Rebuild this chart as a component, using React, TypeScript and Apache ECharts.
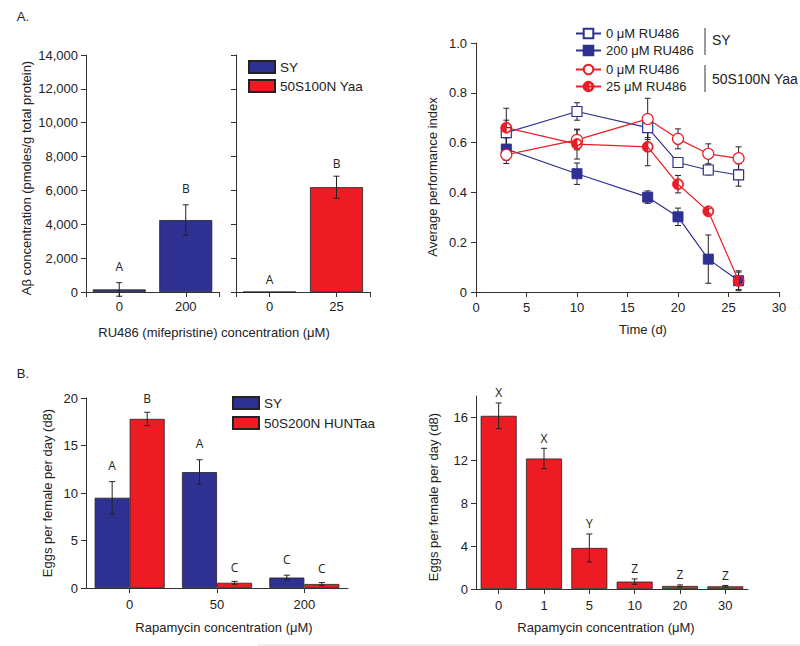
import React, { useEffect, useRef } from "react";
import * as echarts from "echarts";

const FONT = "'Liberation Sans', Arial, Helvetica, sans-serif";
const LETTER_FONT = "'Open Sans', 'Liberation Sans', sans-serif";
const BLUE = "#2E3192";
const RED = "#ED1C24";
const AXIS = "#333";
const INK = "#222";

// ---- Panel A (bars): Aβ concentration ----
const aCatsSY = ["0", "200"];
const aValsSY = [150, 4250];
const aErrSY = [400, 900];
const aLetSY = ["A", "B"];
const aCatsYaa = ["0", "25"];
const aValsYaa = [0, 6190];
const aErrYaa = [0, 650];
const aLetYaa = ["A", "B"];

// ---- Panel A (lines): performance index ----
const times = [3, 10, 17, 20, 23, 26];
const piSY0 = [0.64, 0.725, 0.66, 0.52, 0.49, 0.47];
const piSY0Err = [0.05, 0.035, 0.04, 0.02, 0.02, 0.045];
const piSY200 = [0.574, 0.475, 0.381, 0.302, 0.132, 0.045];
const piSY200Err = [0.045, 0.043, 0.025, 0.035, 0.097, 0.04];
const piYaa0 = [0.551, 0.611, 0.695, 0.615, 0.555, 0.537];
const piYaa0Err = [0.035, 0.04, 0.083, 0.04, 0.04, 0.046];
const piYaa25 = [0.66, 0.594, 0.583, 0.433, 0.324, 0.045];
const piYaa25Err = [0.078, 0.06, 0.076, 0.035, 0.01, 0.035];

// ---- Panel B (grouped bars): eggs vs rapamycin ----
const bCats = ["0", "50", "200"];
const bSY = [9.5, 12.2, 1.1];
const bSYErr = [1.7, 1.3, 0.25];
const bSYLet = ["A", "A", "C"];
const bHunt = [17.8, 0.55, 0.42];
const bHuntErr = [0.7, 0.15, 0.15];
const bHuntLet = ["B", "C", "C"];

// ---- Panel B (single bars) ----
const rCats = ["0", "1", "5", "10", "20", "30"];
const rVals = [16.15, 12.17, 3.83, 0.69, 0.28, 0.25];
const rErr = [1.2, 0.95, 1.3, 0.25, 0.1, 0.08];
const rLet = ["X", "X", "Y", "Z", "Z", "Z"];
const rTicks = [0, 4, 8, 12, 16];

const HALF_CIRCLE =
  "path://M0,-6A6,6 0 0 0 0,6Z M0,-6A6,6 0 0 1 0,6L0,4.9A4.9,4.9 0 0 0 0,-4.9Z";

function makeErr(letters: string[] | null, offset: number, gap: number) {
  return (params: any, api: any) => {
    const x = api.value(0);
    const v = api.value(1);
    const e = api.value(2);
    const top = api.coord([x, v + e]);
    const bot = api.coord([x, v - e]);
    const cx = top[0] + offset;
    const st = { stroke: INK, lineWidth: 1 };
    const children: any[] = [];
    if (e > 0) {
      children.push({ type: "line", shape: { x1: cx, y1: top[1], x2: cx, y2: bot[1] }, style: st });
      children.push({ type: "line", shape: { x1: cx - 3, y1: top[1], x2: cx + 3, y2: top[1] }, style: st });
      children.push({ type: "line", shape: { x1: cx - 3, y1: bot[1], x2: cx + 3, y2: bot[1] }, style: st });
    }
    if (letters) {
      children.push({
        type: "text",
        x: cx,
        y: top[1] - gap,
        style: {
          text: letters[params.dataIndex],
          fill: INK,
          fontSize: 12,
          fontFamily: LETTER_FONT,
          align: "center",
          verticalAlign: "middle",
        },
      });
    }
    return { type: "group", children };
  };
}

const axisLine = { show: true, onZero: false, lineStyle: { color: AXIS, width: 1 } };
const labelStyle = { color: INK, fontSize: 13, fontFamily: FONT };

function errSeries(
  xi: number,
  xs: number[],
  vals: number[],
  errs: number[],
  letters: string[] | null,
  offset: number,
  gap: number
) {
  return {
    type: "custom",
    xAxisIndex: xi,
    yAxisIndex: xi,
    renderItem: makeErr(letters, offset, gap),
    encode: { x: 0, y: 1 },
    data: vals.map((v, i) => [xs[i], v, errs[i]]),
    z: 5,
    silent: true,
  };
}

function titleText(text: string, x: number, y: number, rotate = false) {
  return {
    type: "text",
    x,
    y,
    rotation: rotate ? Math.PI / 2 : 0,
    style: {
      text,
      fill: INK,
      fontSize: 13,
      fontFamily: FONT,
      align: "center",
      verticalAlign: "middle",
    },
  };
}

const idx = (arr: any[]) => arr.map((_, i) => i);

const option: any = {
  animation: false,
  backgroundColor: "#fff",
  grid: [
    { left: 86, top: 55, width: 133, height: 237 },
    { left: 236, top: 55, width: 134, height: 237 },
    { left: 476, top: 43, width: 303, height: 249 },
    { left: 86, top: 398, width: 262, height: 190 },
    { left: 476, top: 396, width: 272, height: 193 },
  ],
  xAxis: [
    {
      type: "value",
      gridIndex: 0,
      min: -0.5,
      max: 1.5,
      axisLine,
      axisTick: { show: true, length: 5, lineStyle: { color: AXIS }, customValues: [-0.5, 0, 1, 1.5] },
      axisLabel: { ...labelStyle, margin: 8, customValues: [0, 1], formatter: (v: number) => aCatsSY[Math.round(v)] },
      splitLine: { show: false },
    },
    {
      type: "value",
      gridIndex: 1,
      min: -0.5,
      max: 1.5,
      axisLine,
      axisTick: { show: true, length: 5, lineStyle: { color: AXIS }, customValues: [-0.5, 0, 1, 1.5] },
      axisLabel: { ...labelStyle, margin: 8, customValues: [0, 1], formatter: (v: number) => aCatsYaa[Math.round(v)] },
      splitLine: { show: false },
    },
    {
      type: "value",
      gridIndex: 2,
      min: 0,
      max: 30,
      interval: 5,
      axisLine,
      axisTick: { show: true, length: 5, lineStyle: { color: AXIS } },
      axisLabel: { ...labelStyle, margin: 9 },
      splitLine: { show: false },
    },
    {
      type: "category",
      gridIndex: 3,
      data: bCats,
      axisLine,
      axisTick: { show: true, length: 5, alignWithLabel: true, lineStyle: { color: AXIS } },
      axisLabel: { ...labelStyle, margin: 10 },
    },
    {
      type: "category",
      gridIndex: 4,
      data: rCats,
      axisLine,
      axisTick: { show: true, length: 5, alignWithLabel: true, lineStyle: { color: AXIS } },
      axisLabel: { ...labelStyle, margin: 10 },
    },
  ],
  yAxis: [
    {
      type: "value",
      gridIndex: 0,
      min: 0,
      max: 14000,
      interval: 2000,
      axisLine,
      axisTick: { show: true, length: 5, lineStyle: { color: AXIS } },
      axisLabel: { ...labelStyle, margin: 8, formatter: (v: number) => v.toLocaleString("en-US") },
      splitLine: { show: false },
    },
    {
      type: "value",
      gridIndex: 1,
      min: 0,
      max: 14000,
      interval: 2000,
      axisLine,
      axisTick: { show: true, length: 5, lineStyle: { color: AXIS } },
      axisLabel: { show: false },
      splitLine: { show: false },
    },
    {
      type: "value",
      gridIndex: 2,
      min: 0,
      max: 1,
      interval: 0.2,
      axisLine,
      axisTick: { show: true, length: 5, lineStyle: { color: AXIS } },
      axisLabel: { ...labelStyle, margin: 9, formatter: (v: number) => (v === 0 ? "0" : v.toFixed(1)) },
      splitLine: { show: false },
    },
    {
      type: "value",
      gridIndex: 3,
      min: 0,
      max: 20,
      interval: 5,
      axisLine,
      axisTick: { show: true, length: 5, lineStyle: { color: AXIS } },
      axisLabel: { ...labelStyle, margin: 8 },
      splitLine: { show: false },
    },
    {
      type: "value",
      gridIndex: 4,
      min: 0,
      max: 18,
      interval: 4,
      axisLine,
      axisTick: { show: true, length: 5, lineStyle: { color: AXIS }, customValues: rTicks },
      axisLabel: { ...labelStyle, margin: 8, customValues: rTicks },
      splitLine: { show: false },
    },
  ],
  legend: [
    {
      data: ["SY", "50S100N Yaa"],
      left: 248,
      top: 60,
      padding: 0,
      orient: "vertical",
      icon: "rect",
      itemWidth: 26,
      itemHeight: 12,
      itemGap: 5,
      selectedMode: false,
      textStyle: { ...labelStyle, fontSize: 13.5, lineHeight: 12 },
    },
    {
      data: ["SY", "50S200N HUNTaa"],
      left: 232,
      top: 396,
      padding: 0,
      orient: "vertical",
      icon: "rect",
      itemWidth: 26,
      itemHeight: 12,
      itemGap: 6,
      selectedMode: false,
      textStyle: { ...labelStyle, fontSize: 13.5, lineHeight: 12 },
    },
    {
      data: ["0 μM RU486|SY", "200 μM RU486|SY"],
      left: 575,
      top: 27,
      padding: 0,
      orient: "vertical",
      itemWidth: 25,
      itemHeight: 12,
      itemGap: 4,
      selectedMode: false,
      formatter: (n: string) => n.split("|")[0],
      textStyle: { ...labelStyle, fontSize: 13, lineHeight: 12 },
    },
    {
      data: ["0 μM RU486|Yaa", "25 μM RU486|Yaa"],
      left: 575,
      top: 63,
      padding: 0,
      orient: "vertical",
      itemWidth: 25,
      itemHeight: 12,
      itemGap: 4,
      selectedMode: false,
      formatter: (n: string) => n.split("|")[0],
      textStyle: { ...labelStyle, fontSize: 13, lineHeight: 12 },
    },
  ],
  series: [
    // Panel A bars
    {
      type: "bar",
      name: "SY",
      xAxisIndex: 0,
      yAxisIndex: 0,
      barWidth: 53,
      data: aValsSY.map((v, i) => [i, v]),
      itemStyle: { color: BLUE, borderColor: INK, borderWidth: 0.8 },
    },
    errSeries(0, idx(aValsSY), aValsSY, aErrSY, aLetSY, 0, 16),
    {
      type: "bar",
      name: "50S100N Yaa",
      xAxisIndex: 1,
      yAxisIndex: 1,
      barWidth: 53,
      data: aValsYaa.map((v, i) => [i, v]),
      itemStyle: { color: RED, borderColor: INK, borderWidth: 0.8 },
    },
    errSeries(1, idx(aValsYaa), aValsYaa, aErrYaa, aLetYaa, 0, 13),
    // Panel A lines: error bars first
    errSeries(2, times, piSY0, piSY0Err, null, 0, 0),
    errSeries(2, times, piSY200, piSY200Err, null, 0, 0),
    errSeries(2, times, piYaa0, piYaa0Err, null, 0, 0),
    errSeries(2, times, piYaa25, piYaa25Err, null, 0, 0),
    {
      type: "line",
      name: "0 μM RU486|SY",
      xAxisIndex: 2,
      yAxisIndex: 2,
      data: times.map((t, i) => [t, piSY0[i]]),
      symbol: "rect",
      symbolSize: 10,
      lineStyle: { color: BLUE, width: 1.2 },
      itemStyle: { color: "#fff", borderColor: BLUE, borderWidth: 1.2 },
      z: 6,
    },
    {
      type: "line",
      name: "200 μM RU486|SY",
      xAxisIndex: 2,
      yAxisIndex: 2,
      data: times.map((t, i) => [t, piSY200[i]]),
      symbol: "rect",
      symbolSize: 10,
      lineStyle: { color: BLUE, width: 1.2 },
      itemStyle: { color: BLUE, borderColor: BLUE, borderWidth: 1 },
      z: 6,
    },
    {
      type: "line",
      name: "0 μM RU486|Yaa",
      xAxisIndex: 2,
      yAxisIndex: 2,
      data: times.map((t, i) => [t, piYaa0[i]]),
      symbol: "circle",
      symbolSize: 11,
      lineStyle: { color: RED, width: 1.2 },
      itemStyle: { color: "#fff", borderColor: RED, borderWidth: 1.2 },
      z: 6,
    },
    {
      type: "line",
      name: "25 μM RU486|Yaa",
      xAxisIndex: 2,
      yAxisIndex: 2,
      data: times.map((t, i) => [t, piYaa25[i]]),
      symbol: HALF_CIRCLE,
      symbolSize: 11,
      lineStyle: { color: RED, width: 1.2 },
      itemStyle: { color: RED, borderColor: RED, borderWidth: 0.8 },
      z: 6,
    },
    // Panel B grouped bars
    {
      type: "bar",
      name: "SY",
      xAxisIndex: 3,
      yAxisIndex: 3,
      barWidth: 35,
      barGap: "0%",
      data: bSY,
      itemStyle: { color: BLUE, borderColor: INK, borderWidth: 0.8 },
    },
    {
      type: "bar",
      name: "50S200N HUNTaa",
      xAxisIndex: 3,
      yAxisIndex: 3,
      barWidth: 35,
      barGap: "0%",
      data: bHunt,
      itemStyle: { color: RED, borderColor: INK, borderWidth: 0.8 },
    },
    errSeries(3, idx(bSY), bSY, bSYErr, bSYLet, -17.5, 16),
    errSeries(3, idx(bHunt), bHunt, bHuntErr, bHuntLet, 17.5, 14),
    // Panel B single bars
    {
      type: "bar",
      name: "rapamycin",
      xAxisIndex: 4,
      yAxisIndex: 4,
      barWidth: 36,
      data: rVals,
      itemStyle: { color: RED, borderColor: INK, borderWidth: 0.8 },
    },
    errSeries(4, idx(rVals), rVals, rErr, rLet, 0, 10),
  ],
  graphic: [
    titleText("A.", 23, 16),
    titleText("B.", 23, 373),
    titleText("Aβ concentration (pmoles/g total protein)", 26, 178, true),
    titleText("RU486 (mifepristine) concentration (μM)", 214, 332),
    titleText("Average performance index", 432, 177, true),
    titleText("Time (d)", 643, 329),
    titleText("Eggs per female per day (d8)", 47, 493, true),
    titleText("Rapamycin concentration (μM)", 224, 627),
    titleText("Eggs per female per day (d8)", 433, 497, true),
    titleText("Rapamycin concentration (μM)", 606, 627),
    { type: "line", shape: { x1: 705, y1: 28, x2: 705, y2: 55 }, style: { stroke: "#999", lineWidth: 2 } },
    { type: "line", shape: { x1: 705, y1: 65, x2: 705, y2: 92 }, style: { stroke: "#999", lineWidth: 2 } },
    {
      type: "text",
      x: 712,
      y: 40,
      style: { text: "SY", fill: INK, fontSize: 14, fontFamily: FONT, align: "left", verticalAlign: "middle" },
    },
    {
      type: "text",
      x: 712,
      y: 79,
      style: { text: "50S100N Yaa", fill: INK, fontSize: 14, fontFamily: FONT, align: "left", verticalAlign: "middle" },
    },
    { type: "line", shape: { x1: 258, y1: 645, x2: 800, y2: 645 }, style: { stroke: "#ddd", lineWidth: 1 } },
  ],
};

export default function App() {
  const ref = useRef<HTMLDivElement>(null);
  useEffect(() => {
    const chart = echarts.init(ref.current!, null, { renderer: "svg" });
    chart.setOption(option);
    return () => chart.dispose();
  }, []);
  return (
    <div
      ref={ref}
      style={{ position: "fixed", left: 0, top: 0, width: 800, height: 646, background: "#fff" }}
    />
  );
}
